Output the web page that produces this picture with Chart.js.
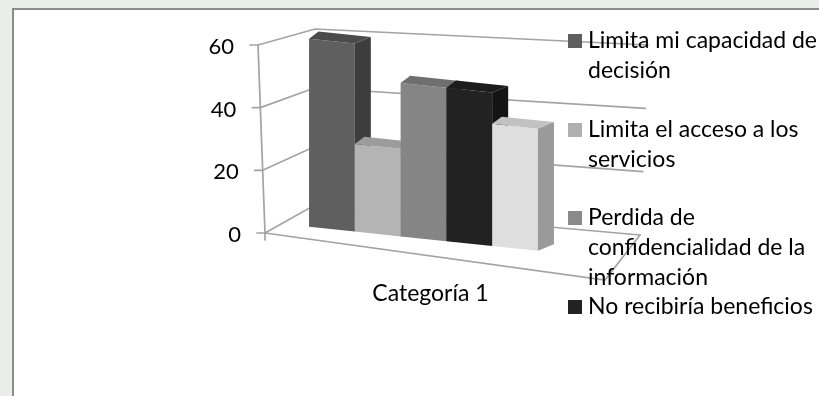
<!DOCTYPE html>
<html>
<head>
<meta charset="utf-8">
<script src="https://cdn.jsdelivr.net/npm/chart.js@4/dist/chart.umd.min.js"></script>
<style>
html,body{margin:0;padding:0;width:819px;height:396px;overflow:hidden;background:#eaeee8;}
#frame{position:absolute;left:12px;top:8px;width:830px;height:400px;background:#fff;border-top:2px solid #8c8c8c;border-left:2px solid #8c8c8c;}
#c{position:absolute;left:0;top:0;}
#legend{position:absolute;left:568px;top:24px;width:262px;height:355px;overflow:hidden;font-family:Lato,"Noto Sans",sans-serif;font-size:23px;line-height:30px;color:#000;}
.item{height:88.5px;display:flex;align-items:flex-start;}
.mk{width:14px;height:14px;margin-top:10px;margin-right:6px;flex:none;}
.tx{width:242px;}
</style>
</head>
<body>
<div id="frame"></div>
<canvas id="c" width="819" height="396"></canvas>
<div id="legend"></div>
<script>
// ---- data ----
const categories = ['Categoría 1'];
const seriesNames = [
  'Limita mi capacidad de decisión',
  'Limita el acceso a los servicios',
  'Perdida de confidencialidad de la información',
  'No recibiría beneficios',
  'Serie 5'
];
const values = [60, 28, 49, 49, 39];
const yTicks = [0, 20, 40, 60];

// ---- styles ----
const frontColors = ['#5f5f5f', '#b4b4b4', '#858585', '#222222', '#dedede'];
const topColors   = ['#4b4b4b', '#9c9c9c', '#6f6f6f', '#1c1c1c', '#c2c2c2'];
const sideColors  = ['#3d3d3d', '#8e8e8e', '#5e5e5e', '#141414', '#9a9a9a'];
const legendColors = ['#5f5f5f', '#b0b0b0', '#8a8a8a', '#222222', '#dedede'];
const FONT = 'Lato, "Noto Sans", sans-serif';
const K = 0.105;      // vertical skew of the 3D view
const DX = 16, DY = -8.2; // bar depth

// legend
const leg = document.getElementById('legend');
seriesNames.forEach((n, i) => {
  const it = document.createElement('div'); it.className = 'item';
  const mk = document.createElement('div'); mk.className = 'mk'; mk.style.background = legendColors[i];
  const tx = document.createElement('div'); tx.className = 'tx'; tx.textContent = n;
  it.appendChild(mk); it.appendChild(tx); leg.appendChild(it);
});

const view3d = {
  id: 'view3d',
  beforeDatasetsDraw(chart) {
    const ctx = chart.ctx, ys = chart.scales.y, xs = chart.scales.x, a = chart.chartArea;
    const top = ys.getPixelForValue(yTicks[yTicks.length - 1]);
    const bot = ys.getPixelForValue(yTicks[0]);
    const L = a.left;
    const f = p => (p - top) / (bot - top);
    const axisX = p => L - 2 + 7 * f(p);
    const backL = p => ({ x: L + 55 - 2 * f(p), y: p - 16 - 11 * f(p) });
    const backR = p => ({ x: L + 388 - 8 * f(p), y: p + 2 * f(p) });
    ctx.save();
    ctx.strokeStyle = '#a3a3a3';
    ctx.lineWidth = 1.7;
    ctx.lineCap = 'round';
    yTicks.forEach(v => {
      const p = ys.getPixelForValue(v);
      const b = backL(p), r = backR(p);
      ctx.beginPath(); ctx.moveTo(axisX(p), p); ctx.lineTo(b.x, b.y); ctx.lineTo(r.x, r.y); ctx.stroke();
      ctx.beginPath(); ctx.moveTo(axisX(p) - 8, p); ctx.lineTo(axisX(p), p); ctx.stroke();
    });
    ctx.beginPath(); ctx.moveTo(axisX(top), top); ctx.lineTo(axisX(bot), bot); ctx.stroke();
    const r0 = backR(bot);
    ctx.beginPath(); ctx.moveTo(axisX(bot), bot); ctx.lineTo(L + 345, bot + 47); ctx.lineTo(r0.x, r0.y); ctx.stroke();
    ctx.beginPath(); ctx.moveTo(axisX(bot), bot); ctx.lineTo(axisX(bot), bot + 7); ctx.stroke();
    // tick labels
    ctx.fillStyle = '#000';
    ctx.font = '22px ' + FONT;
    ctx.textAlign = 'right'; ctx.textBaseline = 'middle';
    ys.ticks.forEach(t => {
      const p = ys.getPixelForValue(t.value);
      ctx.fillText(t.label, axisX(p) - 24, p + 2);
    });
    // category label
    ctx.font = '23px ' + FONT;
    ctx.textAlign = 'center';
    categories.forEach((c, i) => {
      ctx.fillText(xs.getLabelForValue(i), xs.getPixelForValue(i) + 7, bot + 61);
    });
    ctx.restore();
    // skewed 3D view for bars
    ctx.save();
    const XR = L + 108;
    ctx.transform(1, K, 0, 1, 0, -K * XR);
  },
  beforeDatasetDraw() { return false; },
  afterDatasetsDraw(chart) {
    const ctx = chart.ctx;
    chart.data.datasets.forEach((ds, i) => {
      const meta = chart.getDatasetMeta(i);
      meta.data.forEach(el => {
        const { x, y, base, width } = el.getProps(['x', 'y', 'base', 'width'], true);
        const x0 = x - width / 2, x1 = x + width / 2;
        el.draw(ctx);
        // top face
        ctx.fillStyle = topColors[i];
        ctx.beginPath();
        ctx.moveTo(x0, y); ctx.lineTo(x1, y); ctx.lineTo(x1 + DX, y + DY); ctx.lineTo(x0 + DX * 0.6, y + DY);
        ctx.closePath(); ctx.fill();
        // side face
        ctx.fillStyle = sideColors[i];
        ctx.beginPath();
        ctx.moveTo(x1, y); ctx.lineTo(x1 + DX, y + DY); ctx.lineTo(x1 + DX, base + DY); ctx.lineTo(x1, base);
        ctx.closePath(); ctx.fill();
      });
    });
    ctx.restore();
  }
};

new Chart(document.getElementById('c'), {
  type: 'bar',
  data: {
    labels: categories,
    datasets: seriesNames.map((n, i) => ({
      label: n,
      data: [values[i]],
      backgroundColor: frontColors[i],
      borderWidth: 0,
      clip: false
    }))
  },
  options: {
    responsive: false,
    animation: false,
    events: [],
    layout: { padding: { left: 260, right: 232, top: 45, bottom: 163 } },
    datasets: { bar: { categoryPercentage: 0.70, barPercentage: 1 } },
    plugins: { legend: { display: false }, tooltip: { enabled: false } },
    scales: {
      x: { display: false },
      y: { display: false, min: 0, max: 60, ticks: { stepSize: 20 } }
    }
  },
  plugins: [view3d]
});
</script>
</body>
</html>
